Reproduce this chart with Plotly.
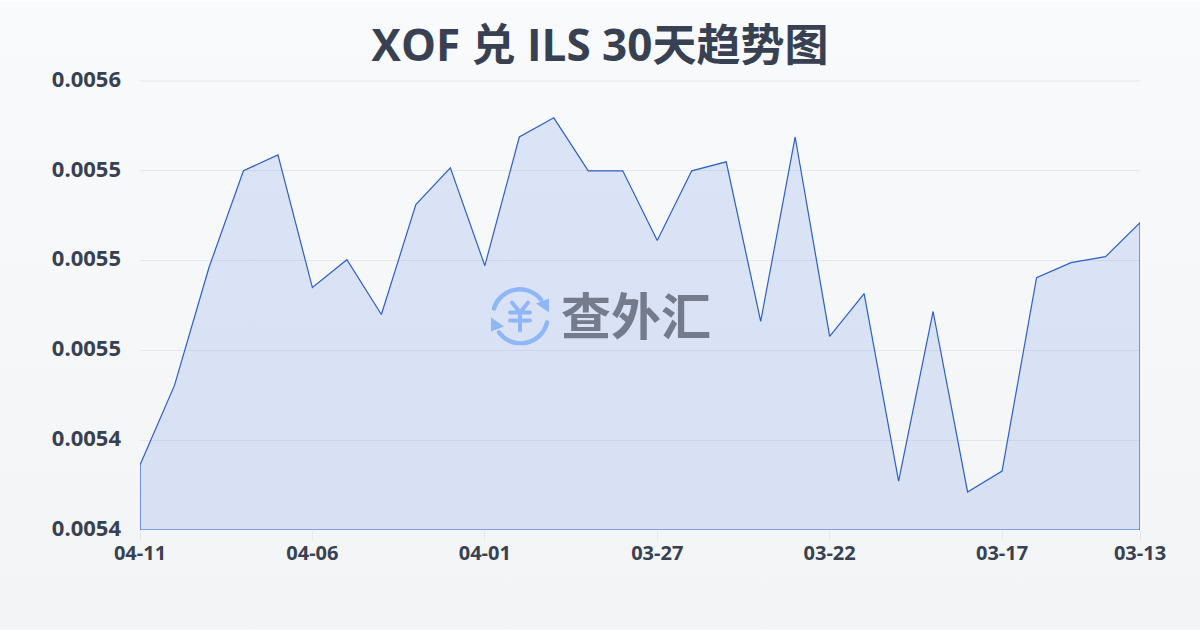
import base64
import plotly.graph_objects as go

days = ["04-11","04-10","04-09","04-08","04-07","04-06","04-05","04-04","04-03","04-02",
        "04-01","03-31","03-30","03-29","03-28","03-27","03-26","03-25","03-24","03-23",
        "03-22","03-21","03-20","03-19","03-18","03-17","03-16","03-15","03-14","03-13"]
rates = [0.0054417,0.0054683,0.0055077,0.0055400,0.0055453,0.0055010,0.0055103,0.0054920,
         0.0055287,0.0055410,0.0055083,0.0055513,0.0055577,0.0055400,0.0055400,0.0055167,
         0.0055400,0.0055430,0.0054897,0.0055513,0.0054847,0.0054990,0.0054363,0.0054930,
         0.0054327,0.0054397,0.0055043,0.0055093,0.0055113,0.0055227]
x_tick_index = [0,5,10,15,20,25,29]
y_ticks = [0.00557,0.00554,0.00551,0.00548,0.00545,0.00542]
y_labels = ["0.0056","0.0055","0.0055","0.0055","0.0054","0.0054"]
title_text = "XOF 兑 ILS 30天趋势图"
watermark = "查外汇"

FONT = "Open Sans, Noto Sans CJK SC, sans-serif"
INK = "#374151"

bg_svg = ('<svg xmlns="http://www.w3.org/2000/svg" width="1200" height="630" preserveAspectRatio="none">'
          '<defs><linearGradient id="g" x1="0" y1="0" x2="0" y2="1"><stop offset="0" stop-color="#f8fafc"/>'
          '<stop offset="1" stop-color="#f3f4f6"/></linearGradient></defs>'
          '<rect width="1200" height="630" fill="url(#g)"/></svg>')
logo_svg = ('<svg xmlns="http://www.w3.org/2000/svg" viewBox="0 0 60 60" width="60" height="60">'
            '<g fill="none" stroke="#8fb6f6" stroke-width="4.4" stroke-linecap="round">'
            '<path d="M4 23 A27 27 0 0 1 51 14"/><path d="M57 37 A27 27 0 0 1 9 47"/></g>'
            '<g fill="none" stroke="#8fb6f6" stroke-width="4" stroke-linecap="round" stroke-linejoin="round">'
            '<path d="M22 17 L30 27 L38 17 M30 27 V45 M20 27 H40 M20 35 H40"/></g>'
            '<path d="M59 13 L59 27 L46 18 Z M1 32 L1 46 L14 41 Z" fill="#8fb6f6"/></svg>')
def uri(s):
    return "data:image/svg+xml;base64," + base64.b64encode(s.encode()).decode()

idx = list(range(len(rates)))
base = y_ticks[-1]
fig = go.Figure(go.Scatter(
    x=[idx[0]] + idx + [idx[-1], idx[0]],
    y=[base] + rates + [base, base],
    mode="lines", fill="toself",
    line=dict(color="#2c5fc8", width=1.2),
    fillgradient=dict(type="vertical",
                      colorscale=[[0, "rgba(60,105,220,0.15)"], [1, "rgba(60,110,225,0.15)"]]),
    cliponaxis=False,
    hoverinfo="skip", showlegend=False))

fig.update_layout(
    width=1200, height=630, autosize=False,
    margin=dict(l=140, r=60, t=80.5, b=99.5),
    paper_bgcolor="rgba(0,0,0,0)", plot_bgcolor="rgba(0,0,0,0)",
    font=dict(family=FONT, color=INK),
    title=dict(text=f"<b>{title_text}</b>", x=0.5, xanchor="center", y=0.928, yanchor="middle",
               font=dict(size=44, color=INK, family=FONT)),
    xaxis=dict(range=[idx[0], idx[-1]], tickmode="array", tickvals=x_tick_index,
               ticktext=[f"<b>{days[i]}</b>" for i in x_tick_index],
               showgrid=False, zeroline=False, showline=False,
               ticks="outside", ticklen=10, tickcolor="#e5e7eb", tickwidth=1,
               ticklabelstandoff=-5,
               tickfont=dict(size=20, color=INK, family=FONT)),
    yaxis=dict(range=[y_ticks[-1], y_ticks[0]], tickmode="array", tickvals=y_ticks,
               ticktext=[f"<b>{t}</b>" for t in y_labels],
               showgrid=True, gridcolor="#e5e7eb", gridwidth=1, zeroline=False, showline=False,
               ticks="", ticklabelstandoff=18, ticklabelshift=-2,
               tickfont=dict(size=22, color=INK, family=FONT)),
    images=[dict(source=uri(bg_svg), xref="paper", yref="paper", x=-140/1000, y=1+80/450,
                 sizex=1.2, sizey=1.4, sizing="stretch", xanchor="left", yanchor="top", layer="below"),
            dict(source=uri(logo_svg), xref="paper", yref="paper", x=350/1000, y=(530-285)/450,
                 sizex=60/1000, sizey=60/450, sizing="stretch", xanchor="left", yanchor="top", layer="above")],
    annotations=[dict(text=f"<b>{watermark}</b>", xref="paper", yref="paper", x=(636-140)/1000,
                      y=(530-313)/450, xanchor="center", yanchor="middle", showarrow=False,
                      font=dict(size=50, color="#737b8c", family="Noto Sans CJK SC"))],
    shapes=[dict(type="line", xref="paper", yref="paper", x0=0, x1=1, y0=1, y1=1,
                 line=dict(color="#e5e7eb", width=1), layer="below")],
)
fig.write_html("out.html", config=dict(displayModeBar=False),
               post_script="document.body.style.margin='0';document.body.style.overflow='hidden';")
